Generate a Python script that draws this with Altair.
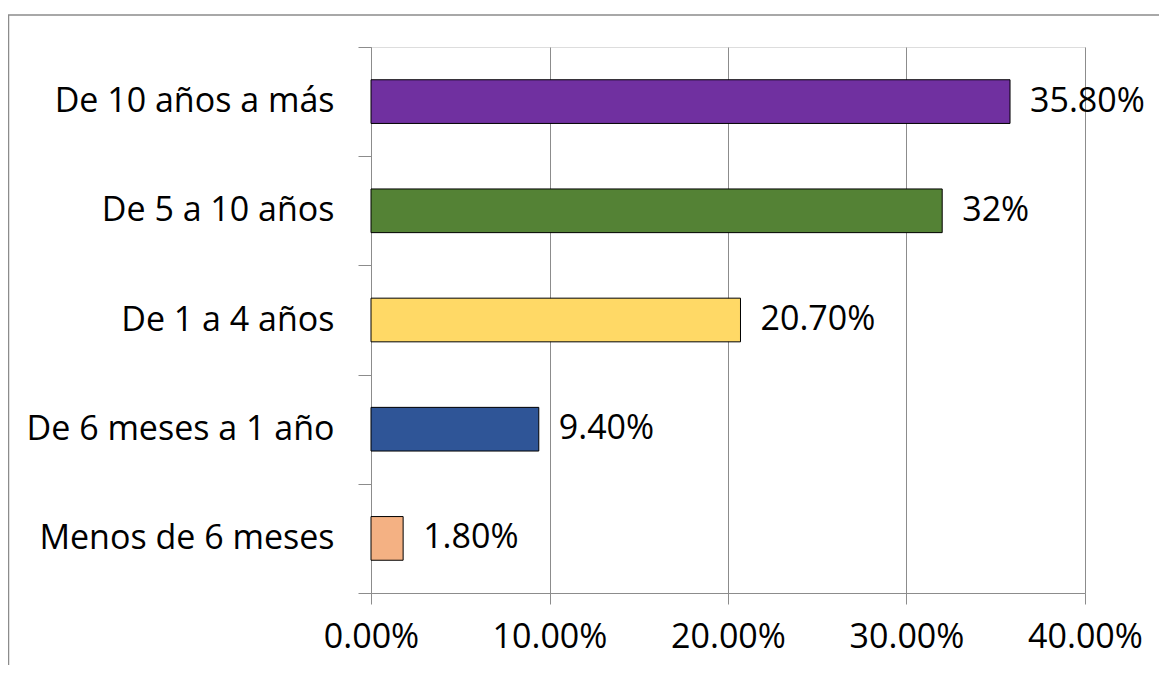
import altair as alt
import pandas as pd

categories = ["De 10 años a más", "De 5 a 10 años", "De 1 a 4 años", "De 6 meses a 1 año", "Menos de 6 meses"]
values = [0.358, 0.32, 0.207, 0.094, 0.018]
value_labels = ["35.80%", "32%", "20.70%", "9.40%", "1.80%"]
colors = ["#7030A0", "#548235", "#FFD966", "#2F5597", "#F4B183"]
x_ticks = [0, 0.1, 0.2, 0.3, 0.4]

df = pd.DataFrame({"cat": categories, "val": values, "lab": value_labels})

FONT = "Open Sans"
FS = 34
GRAY = "#8C8C8C"

y_enc = alt.Y(
    "cat:N",
    sort=categories,
    title=None,
    scale=alt.Scale(paddingInner=0, paddingOuter=0),
    axis=alt.Axis(
        tickBand="extent",
        tickSize=13,
        labelPadding=24,
        labelFontSize=FS,
        labelFont=FONT,
        labelColor="#000000",
        domainColor=GRAY,
        tickColor=GRAY,
        grid=False,
        labelLimit=400,
    ),
)
x_enc = alt.X(
    "val:Q",
    title=None,
    scale=alt.Scale(domain=[0, 0.4], nice=False),
    axis=alt.Axis(
        values=x_ticks,
        format=".2%",
        tickSize=11,
        labelPadding=16,
        labelFontSize=FS,
        labelFont=FONT,
        labelColor="#000000",
        labelFlush=False,
        labelOverlap=False,
        domainColor=GRAY,
        tickColor=GRAY,
        gridColor=GRAY,
        grid=True,
    ),
)

bars = alt.Chart(df).mark_bar(
    height={"band": 0.4}, stroke="#000000", strokeWidth=1
).encode(
    x=x_enc,
    y=y_enc,
    color=alt.Color("cat:N", scale=alt.Scale(domain=categories, range=colors), legend=None),
)

texts = alt.Chart(df).mark_text(
    align="left", baseline="middle", dx=20, fontSize=FS, font=FONT, color="#000000"
).encode(
    x=alt.X("val:Q"),
    y=alt.Y("cat:N", sort=categories),
    text="lab:N",
)

frame = alt.Chart(pd.DataFrame({"a": [0]})).mark_rect(
    fill="transparent", stroke=GRAY, strokeWidth=1.5, clip=False
).encode(
    x=alt.value(-362.5), x2=alt.value(2000), y=alt.value(-32), y2=alt.value(2000)
)

chart = alt.layer(frame, bars, texts).properties(
    width=714,
    height=546,
    autosize=alt.AutoSizeParams(type="none"),
    padding={"left": 363, "top": 39, "right": 74, "bottom": 72},
).configure_view(stroke=None).configure(background="white")

chart.save("out.html", embed_options={"renderer": "svg", "actions": False})
